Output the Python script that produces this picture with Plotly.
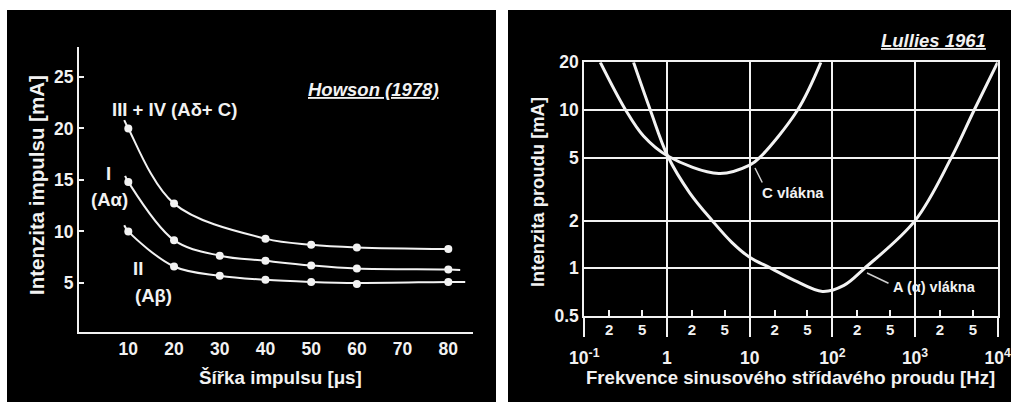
import plotly.graph_objects as go

W, H = 1020, 402
FONT = "Liberation Sans, Arial, sans-serif"
WHITE = "#f2f2f2"

# ---------------- Left panel: Howson (1978) ----------------
pulse_ticks = [10, 20, 30, 40, 50, 60, 70, 80]
current_ticks = [5, 10, 15, 20, 25]

dots_x_III_IV = [10, 20, 40, 50, 60, 80]
dots_y_III_IV = [20.0, 12.7, 9.3, 8.7, 8.45, 8.3]
dots_x_I = [10, 20, 30, 40, 50, 60, 80]
dots_y_I = [14.8, 9.15, 7.65, 7.15, 6.7, 6.4, 6.3]
dots_x_II = [10, 20, 30, 40, 50, 60, 80]
dots_y_II = [10.0, 6.6, 5.7, 5.3, 5.1, 4.9, 5.1]

curve_x_III_IV = [9.1, 10, 20, 40, 50, 60, 80]
curve_y_III_IV = [20.8, 20.0, 12.7, 9.3, 8.7, 8.45, 8.3]
curve_x_I = [9.3, 10, 20, 30, 40, 50, 60, 80, 82.6]
curve_y_I = [15.4, 14.8, 9.15, 7.65, 7.15, 6.7, 6.4, 6.3, 6.25]
curve_x_II = [9.1, 10, 20, 30, 40, 50, 60, 80, 83.7]
curve_y_II = [10.6, 10.0, 6.6, 5.7, 5.3, 5.1, 5.0, 5.1, 5.1]

# ---------------- Right panel: Lullies 1961 ----------------
freq_decades = [0.1, 1, 10, 100, 1000, 10000]
freq_decade_labels = ["10<sup>-1</sup>", "1", "10", "10<sup>2</sup>", "10<sup>3</sup>", "10<sup>4</sup>"]
freq_minor = [0.2, 0.5, 2, 5, 20, 50, 200, 500, 2000, 5000]
freq_minor_labels = ["2", "5", "2", "5", "2", "5", "2", "5", "2", "5"]
current_log_ticks = [0.5, 1, 2, 5, 10, 20]
current_log_labels = ["0.5", "1", "2", "5", "10", "20"]

freq_A = [0.394, 0.628, 1.02, 1.88, 3.53, 6.08, 10, 18.2, 34.7, 76, 138, 245, 1000, 2750, 5200, 10000]
cur_A = [20, 10, 5.12, 3.0, 2.0, 1.46, 1.175, 1.0, 0.84, 0.715, 0.78, 1.0, 2.0, 5.0, 10, 20]
freq_C = [0.156, 0.316, 0.52, 1.02, 4.24, 10, 13.2, 38, 72.6]
cur_C = [20, 10, 6.84, 5.12, 3.97, 4.48, 5.0, 10, 20]

fig = go.Figure()

line_style = dict(color=WHITE, width=2, shape="spline", smoothing=1.0)
for cx, cy in [(curve_x_III_IV, curve_y_III_IV), (curve_x_I, curve_y_I), (curve_x_II, curve_y_II)]:
    fig.add_trace(go.Scatter(x=cx, y=cy, mode="lines", line=line_style,
                             xaxis="x", yaxis="y", showlegend=False, hoverinfo="skip"))
for dx, dy in [(dots_x_III_IV, dots_y_III_IV), (dots_x_I, dots_y_I), (dots_x_II, dots_y_II)]:
    fig.add_trace(go.Scatter(x=dx, y=dy, mode="markers",
                             marker=dict(color=WHITE, size=8),
                             xaxis="x", yaxis="y", showlegend=False))

fig.add_trace(go.Scatter(x=freq_A, y=cur_A, mode="lines",
                         line=dict(color=WHITE, width=3, shape="spline", smoothing=1.0),
                         xaxis="x2", yaxis="y2", showlegend=False))
fig.add_trace(go.Scatter(x=freq_C, y=cur_C, mode="lines",
                         line=dict(color=WHITE, width=3, shape="spline", smoothing=1.0),
                         xaxis="x3", yaxis="y2", showlegend=False))

tickfont = dict(family=FONT, color=WHITE, size=17.5, weight="bold")

fig.update_layout(
    width=W, height=H,
    margin=dict(l=0, r=0, t=0, b=0, autoexpand=False),
    paper_bgcolor="white",
    plot_bgcolor="black",
    font=dict(family=FONT, color=WHITE, size=17, weight="bold"),
    xaxis=dict(domain=[79 / W, 473 / W], range=[-0.79, 85.4], anchor="y", automargin=False,
               tickvals=pulse_ticks, ticks="", showgrid=False, zeroline=False,
               showline=True, linecolor=WHITE, linewidth=2, tickfont=tickfont),
    yaxis=dict(domain=[70 / H, 355 / H], range=[0.24, 27.9], anchor="x", automargin=False,
               tickvals=current_ticks, ticks="inside", ticklen=5, tickwidth=2, tickcolor=WHITE,
               showgrid=False, zeroline=False, showline=True, linecolor=WHITE, linewidth=2,
               tickfont=tickfont),
    xaxis2=dict(domain=[584.3 / W, 997.7 / W], type="log", range=[-1, 4], anchor="y2",
                automargin=False,
                tickvals=freq_decades, ticktext=freq_decade_labels,
                ticks="outside", ticklen=19, tickwidth=2, tickcolor=WHITE,
                ticklabelstandoff=6,
                showgrid=True, gridcolor=WHITE, gridwidth=2,
                showline=True, mirror=True, linecolor=WHITE, linewidth=2,
                zeroline=False, tickfont=tickfont),
    xaxis3=dict(type="log", range=[-1, 4], overlaying="x2", anchor="y2", side="bottom",
                automargin=False,
                tickvals=freq_minor, ticktext=freq_minor_labels,
                ticks="inside", ticklen=6, tickwidth=2, tickcolor=WHITE,
                ticklabelstandoff=3,
                showgrid=False, showline=False, zeroline=False,
                tickfont=dict(family=FONT, color=WHITE, size=15, weight="bold")),
    yaxis2=dict(domain=[86 / H, 339.7 / H], type="log", range=[-0.30103, 1.30103], anchor="x2",
                automargin=False,
                tickvals=current_log_ticks, ticktext=current_log_labels, ticks="",
                showgrid=True, gridcolor=WHITE, gridwidth=2,
                showline=True, mirror=True, linecolor=WHITE, linewidth=2,
                zeroline=False, tickfont=tickfont),
)

# black panels
fig.add_shape(type="rect", xref="paper", yref="paper", x0=7 / W, x1=496 / W, y0=0, y1=(H - 10) / H,
              fillcolor="black", line_width=0, layer="below")
fig.add_shape(type="rect", xref="paper", yref="paper", x0=508 / W, x1=1011 / W, y0=0, y1=(H - 10) / H,
              fillcolor="black", line_width=0, layer="below")


def px_ann(text, x, y, size=17, angle=0, **kw):
    fig.add_annotation(text=text, x=x / W, y=1 - y / H, xref="paper", yref="paper",
                       showarrow=False, textangle=angle, xanchor="center", yanchor="middle",
                       font=dict(family=FONT, color=WHITE, size=size, weight="bold"), **kw)


# titles & labels, left
px_ann("<i><u>Howson (1978)</u></i>", 373, 90, size=18.5)
px_ann("Intenzita impulsu [mA]", 37, 185, size=20.5, angle=-90)
px_ann("Šířka impulsu [μs]", 280, 377, size=18.8)
px_ann("III + IV (Aδ+ C)", 174, 110, size=18.5)
px_ann("I", 108, 173, size=18.5)
px_ann("(Aα)", 109, 199, size=18.5)
px_ann("II", 138, 268, size=18.5)
px_ann("(Aβ)", 153, 295, size=18.5)

# titles & labels, right
px_ann("<i><u>Lullies 1961</u></i>", 933, 40, size=18.5)
px_ann("Intenzita proudu [mA]", 537, 192, size=18.4, angle=-90)
px_ann("Frekvence sinusového střídavého proudu [Hz]", 790, 377, size=18.6)
px_ann("C vlákna", 793, 192, size=15)
px_ann("A (α) vlákna", 934, 287, size=14.5)

# leader lines (tip on the curve, tail near the label), offsets in pixels
for (tx, ty, hx, hy) in [(755, 168, 763, 184), (867, 273, 890, 284)]:
    fig.add_annotation(text="", x=tx / W, y=1 - ty / H, xref="paper", yref="paper",
                       ax=hx - tx, ay=hy - ty, axref="pixel", ayref="pixel",
                       showarrow=True, arrowhead=0, arrowwidth=1.5, arrowcolor="#cfcfcf")

fig.write_html("out.html", config={"displayModeBar": False, "staticPlot": True},
               post_script="document.body.style.margin='0';document.body.style.padding='0';")
